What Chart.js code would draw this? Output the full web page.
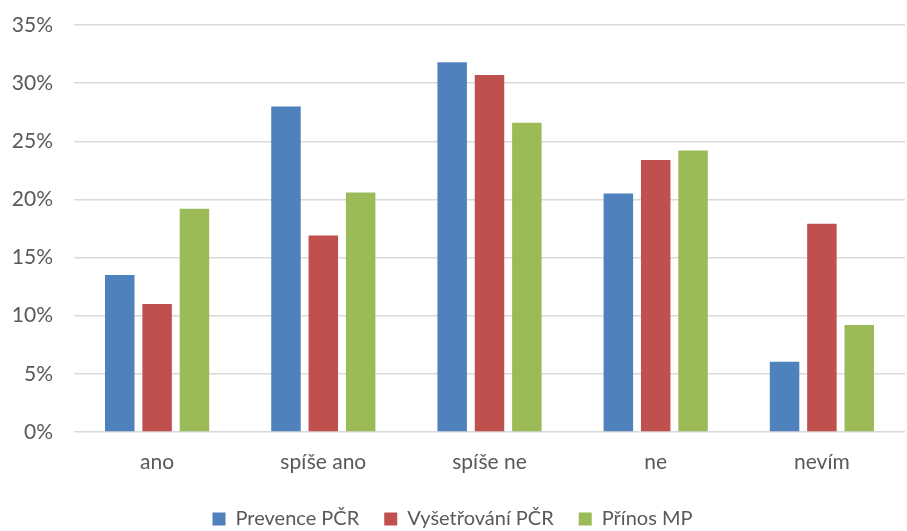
<!DOCTYPE html>
<html lang="cs">
<head>
    <meta charset="UTF-8">
    <title>Prevence PČR / Vyšetřování PČR / Přínos MP</title>
    <script src="https://cdn.jsdelivr.net/npm/chart.js"></script>
    <style>
        html, body { margin: 0; padding: 0; background: #fff; }
        #wrap { width: 907px; height: 531px; }
    </style>
</head>
<body>
    <div id="wrap"><canvas id="chart"></canvas></div>
    <script>
        const categories = ['ano', 'spíše ano', 'spíše ne', 'ne', 'nevím'];
        const prevencePCR = [13.5, 28.0, 31.8, 20.5, 6.05];
        const vysetrovaniPCR = [11.0, 16.9, 30.7, 23.4, 17.9];
        const prinosMP = [19.2, 20.6, 26.6, 24.2, 9.2];
        const yTicks = [0, 5, 10, 15, 20, 25, 30, 35];

        const textColor = '#595959';
        const fontFamily = 'Lato, "Open Sans", sans-serif';

        const ctx = document.getElementById('chart').getContext('2d');
        new Chart(ctx, {
            type: 'bar',
            data: {
                labels: categories,
                datasets: [
                    { label: 'Prevence PČR', data: prevencePCR, backgroundColor: '#4F81BD' },
                    { label: 'Vyšetřování PČR', data: vysetrovaniPCR, backgroundColor: '#C0504D' },
                    { label: 'Přínos MP', data: prinosMP, backgroundColor: '#9BBB59' }
                ]
            },
            options: {
                responsive: true,
                maintainAspectRatio: false,
                animation: false,
                datasets: {
                    bar: { categoryPercentage: 0.674, barPercentage: 0.79 }
                },
                // legend sits a little lower than Chart.js would put it
                layout: { padding: { top: 25, right: 2, left: 0, bottom: -8 } },
                plugins: {
                    tooltip: { enabled: false },
                    legend: {
                        position: 'bottom',
                        labels: {
                            color: textColor,
                            font: { family: fontFamily, size: 20 },
                            boxWidth: 13,
                            boxHeight: 13,
                            padding: 25
                        }
                    }
                },
                scales: {
                    x: {
                        grid: { display: false },
                        border: { display: false },
                        ticks: {
                            color: textColor,
                            font: { family: fontFamily, size: 21 },
                            padding: 10
                        },
                        afterFit: scale => { scale.height = 52; }
                    },
                    y: {
                        min: 0,
                        max: 35,
                        afterBuildTicks: scale => {
                            scale.ticks = yTicks.map(v => ({ value: v }));
                        },
                        // invisible tick marks keep the labels away from the plot
                        grid: { color: '#D9D9D9', lineWidth: 1.5, tickLength: 21, tickColor: 'rgba(0,0,0,0)' },
                        border: { display: false },
                        ticks: {
                            color: textColor,
                            font: { family: fontFamily, size: 21 },
                            padding: 0,
                            callback: v => v + '%'
                        },
                        afterFit: scale => { scale.width = 74; }
                    }
                }
            }
        });
    </script>
</body>
</html>
